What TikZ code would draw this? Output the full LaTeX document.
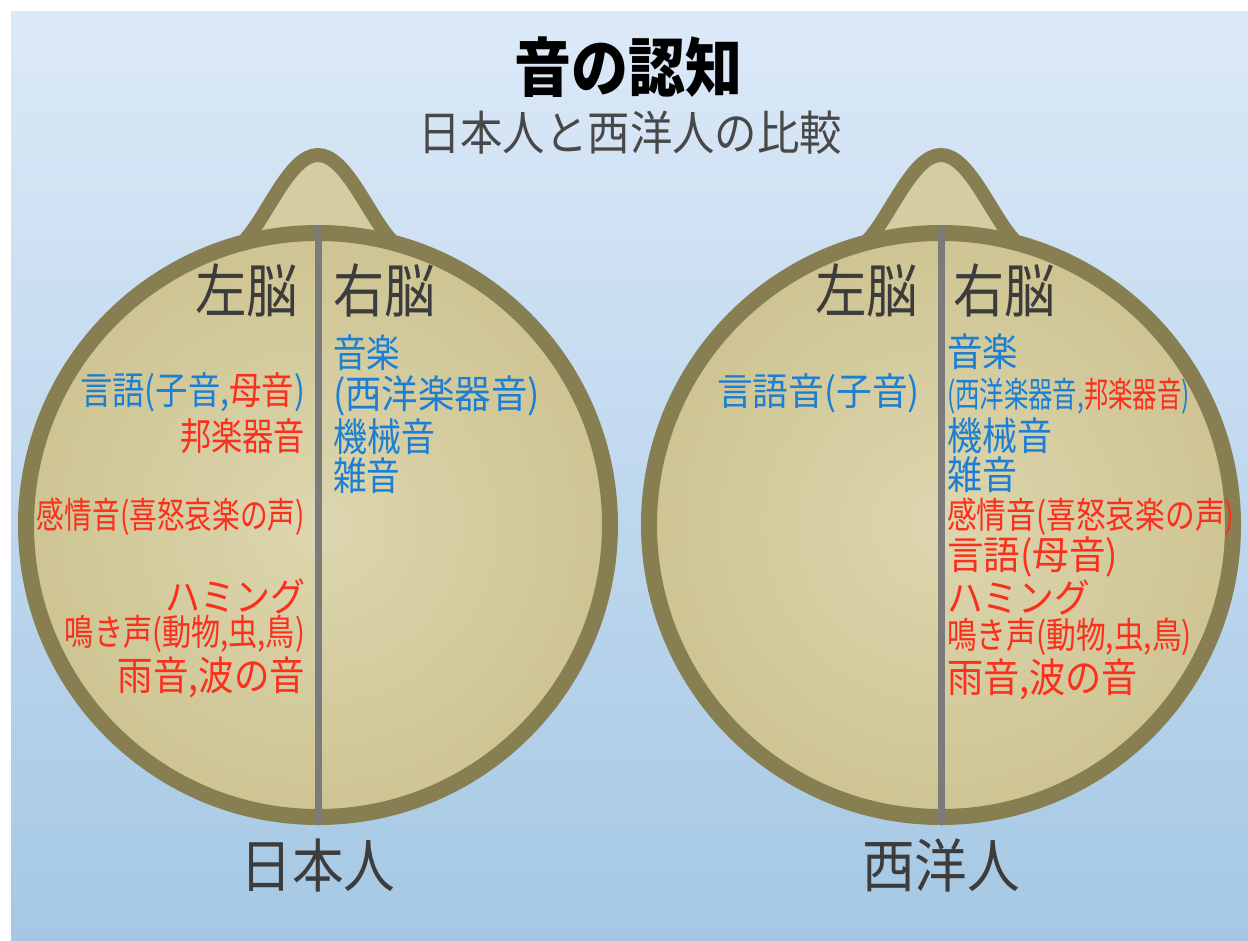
\documentclass[tikz,border=0pt]{standalone}
\usepackage{fontspec}
\setmainfont{Noto Sans CJK JP}
\usetikzlibrary{calc}

\definecolor{skytop}{HTML}{DCE9F8}
\definecolor{skybot}{HTML}{A5C8E4}
\definecolor{headin}{HTML}{DDD6AF}
\definecolor{headout}{HTML}{CEC492}
\definecolor{rim}{HTML}{877F51}
\definecolor{midline}{HTML}{7B7B7B}
\definecolor{lblue}{HTML}{1C7FD3}
\definecolor{lred}{HTML}{FC2E1C}
\definecolor{ink}{HTML}{3C3C3C}
\definecolor{subink}{HTML}{484848}

% text set at a given size and squeezed to a given width
\newcommand{\fitw}[3]{\resizebox{#1pt}{\height}{\fontsize{#2pt}{#2pt}\selectfont #3}}
\newcommand{\bl}[1]{\textcolor{lblue}{#1}}
\newcommand{\rd}[1]{\textcolor{lred}{#1}}

\tikzset{
  lbl/.style={inner sep=0pt, outer sep=0pt},
  side/.style={lbl, text=ink},
  head/.style={shade, inner color=headin, outer color=headout, draw=rim, line width=16pt},
  nose/.style={fill=headout!85!white, draw=rim, line width=14pt, line join=round},
  divider/.style={draw=midline, line width=7pt, line cap=round},
}

\begin{document}
\begin{tikzpicture}[x=1pt,y=-1pt]
\useasboundingbox (0,0) rectangle (1248,941);
\fill[white] (0,0) rectangle (1248,941);
\shade[top color=skytop, bottom color=skybot] (11,12) rectangle (1248,941);

% heads: nose bump, round skull, dividing line
\foreach \cx/\nm in {318/jp, 941/we}{
  \coordinate (\nm) at (\cx,525);
  \draw[nose] ($(\nm)+(-73,-285)$) .. controls ($(\nm)+(-50,-310)$) and ($(\nm)+(-28,-370)$) .. ($(\nm)+(0,-370)$)
              .. controls ($(\nm)+(28,-370)$) and ($(\nm)+(50,-310)$) .. ($(\nm)+(73,-285)$);
  \draw[head] (\nm) circle (292);
  \coordinate (\nm top) at ($(\nm)+(0,-296)$);
  \coordinate (\nm bot) at ($(\nm)+(0,297)$);
  \draw[divider] (\nm top) -- (\nm bot);
}

% titles
\node[lbl, anchor=center] (title) at (628,67) {\fitw{228}{64}{\bfseries 音の認知}};
\node[lbl, anchor=center, text=subink] (subtitle) at (630,133) {\fitw{424}{47}{日本人と西洋人の比較}};

% Japanese listener
\node[side, anchor=east] (jpL) at (298,290) {\fitw{103}{58}{左脳}};
\node[side, anchor=west] (jpR) at (333,290) {\fitw{102}{58}{右脳}};
\node[lbl, anchor=east] (jp1) at (305,392) {\fitw{225}{38}{\bl{言語(子音,}\rd{母音}\bl{)}}};
\node[lbl, anchor=east] (jp2) at (305,436) {\fitw{125}{38}{\rd{邦楽器音}}};
\node[lbl, anchor=east] (jp3) at (305,517) {\fitw{268}{36}{\rd{感情音(喜怒哀楽の声)}}};
\node[lbl, anchor=east] (jp4) at (305,596) {\fitw{140}{39}{\rd{ハミング}}};
\node[lbl, anchor=east] (jp5) at (305,634) {\fitw{240}{36}{\rd{鳴き声(動物,虫,鳥)}}};
\node[lbl, anchor=east] (jp6) at (305,677) {\fitw{187}{40}{\rd{雨音,波の音}}};
\node[lbl, anchor=west] (jp7) at (333,353) {\fitw{67}{39}{\bl{音楽}}};
\node[lbl, anchor=west] (jp8) at (333,396) {\fitw{207}{39}{\bl{(西洋楽器音)}}};
\node[lbl, anchor=west] (jp9) at (333,437) {\fitw{102}{39}{\bl{機械音}}};
\node[lbl, anchor=west] (jp10) at (333,476) {\fitw{67}{39}{\bl{雑音}}};
\node[side, anchor=center] (jpName) at (318,865) {\fitw{155}{58}{日本人}};

% Western listener
\node[side, anchor=east] (weL) at (918,290) {\fitw{103}{58}{左脳}};
\node[side, anchor=west] (weR) at (953,290) {\fitw{102}{58}{右脳}};
\node[lbl, anchor=east] (we1) at (920,393) {\fitw{203}{38}{\bl{言語音(子音)}}};
\node[lbl, anchor=west] (we2) at (947,352) {\fitw{71}{39}{\bl{音楽}}};
\node[lbl, anchor=west] (we3) at (947,396) {\fitw{243}{35}{\bl{(西洋楽器音,}\rd{邦楽器音}\bl{)}}};
\node[lbl, anchor=west] (we4) at (947,436) {\fitw{105}{39}{\bl{機械音}}};
\node[lbl, anchor=west] (we5) at (947,475) {\fitw{70}{39}{\bl{雑音}}};
\node[lbl, anchor=west] (we6) at (947,517) {\fitw{288}{36}{\rd{感情音(喜怒哀楽の声)}}};
\node[lbl, anchor=west] (we7) at (947,557) {\fitw{171}{39}{\rd{言語(母音)}}};
\node[lbl, anchor=west] (we8) at (947,597) {\fitw{143}{39}{\rd{ハミング}}};
\node[lbl, anchor=west] (we9) at (947,637) {\fitw{245}{36}{\rd{鳴き声(動物,虫,鳥)}}};
\node[lbl, anchor=west] (we10) at (947,679) {\fitw{191}{40}{\rd{雨音,波の音}}};
\node[side, anchor=center] (weName) at (941,865) {\fitw{158}{58}{西洋人}};
\end{tikzpicture}
\end{document}
